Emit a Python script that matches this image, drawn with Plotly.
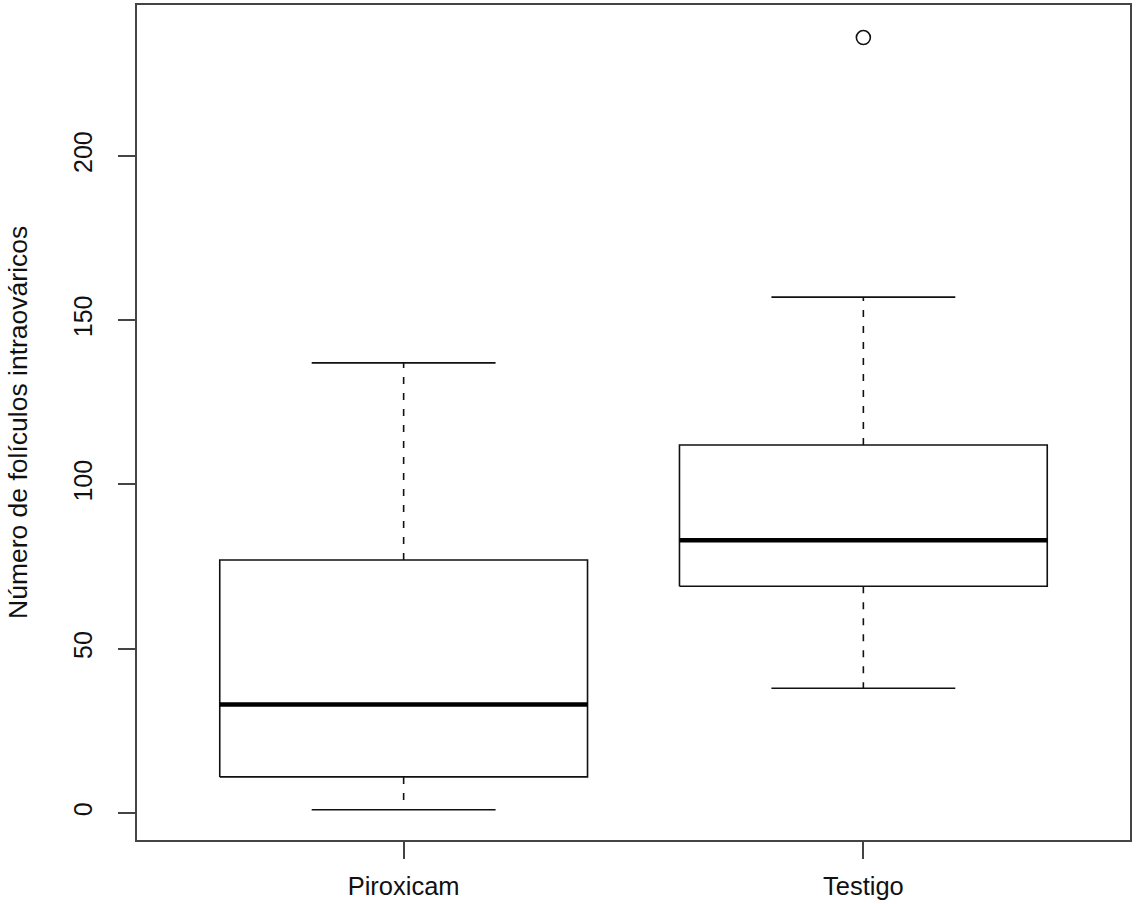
import plotly.graph_objects as go

groups = ["Piroxicam", "Testigo"]
positions = [1, 2]
lower_whisker = [1, 38]
q1 = [11, 69]
median = [33, 83]
q3 = [77, 112]
upper_whisker = [137, 157]
outlier_x = [2]
outlier_y = [236]

box_half = 0.4
cap_half = 0.2

fig = go.Figure()
black = "#111111"
for i, p in enumerate(positions):
    # box
    fig.add_trace(go.Scatter(
        x=[p - box_half, p + box_half, p + box_half, p - box_half, p - box_half],
        y=[q1[i], q1[i], q3[i], q3[i], q1[i]],
        mode="lines", line=dict(color=black, width=1.6), hoverinfo="skip", showlegend=False))
    # median
    fig.add_trace(go.Scatter(
        x=[p - box_half, p + box_half], y=[median[i], median[i]],
        mode="lines", line=dict(color="#000000", width=4.5), hoverinfo="skip", showlegend=False))
    # whiskers
    fig.add_trace(go.Scatter(
        x=[p, p, None, p, p], y=[q3[i], upper_whisker[i], None, q1[i], lower_whisker[i]],
        mode="lines", line=dict(color=black, width=1.6, dash="7px,9px"), hoverinfo="skip", showlegend=False))
    # caps
    fig.add_trace(go.Scatter(
        x=[p - cap_half, p + cap_half, None, p - cap_half, p + cap_half],
        y=[upper_whisker[i], upper_whisker[i], None, lower_whisker[i], lower_whisker[i]],
        mode="lines", line=dict(color=black, width=1.6), hoverinfo="skip", showlegend=False))

fig.add_trace(go.Scatter(
    x=outlier_x, y=outlier_y, mode="markers",
    marker=dict(symbol="circle-open", size=14, color=black, line=dict(width=1.6)),
    hoverinfo="skip", showlegend=False))

fam = "Liberation Sans, Arial, sans-serif"
xfont = dict(family=fam, size=25.5, color="#111111")
yfont = dict(family=fam, size=25, color="#111111")
tfont = dict(family=fam, size=26.5, color="#111111")

fig.update_layout(
    width=1136, height=904, autosize=False,
    margin=dict(l=137, r=6, t=5, b=64, autoexpand=False),
    plot_bgcolor="white", paper_bgcolor="white",
    xaxis=dict(
        range=[0.42, 2.58], tickvals=positions, ticktext=groups,
        showgrid=False, zeroline=False, automargin=False,
        showline=True, mirror=True, linecolor="#444444", linewidth=2,
        ticks="outside", ticklen=17, tickwidth=2, tickcolor="#444444",
        tickfont=xfont, ticklabelstandoff=5,
    ),
    yaxis=dict(
        range=[-8.2, 245.9], tickvals=[0, 50, 100, 150, 200],
        showgrid=False, zeroline=False, automargin=False,
        showline=True, mirror=True, linecolor="#444444", linewidth=2,
        ticks="outside", ticklen=17, tickwidth=2, tickcolor="#444444",
        tickfont=yfont, tickangle=-90, ticklabelstandoff=16,
    ),
    annotations=[dict(
        text="Número de folículos intraováricos", textangle=-90,
        xref="paper", yref="paper", x=-(137 - 18) / 993, y=(840 - 423) / 835,
        xanchor="center", yanchor="middle", showarrow=False, font=tfont)],
)

fig.write_html(
    "out.html",
    config={"responsive": False, "displayModeBar": False},
    post_script="document.body.style.margin='0px';document.body.style.overflow='hidden';document.documentElement.style.overflow='hidden';",
)
